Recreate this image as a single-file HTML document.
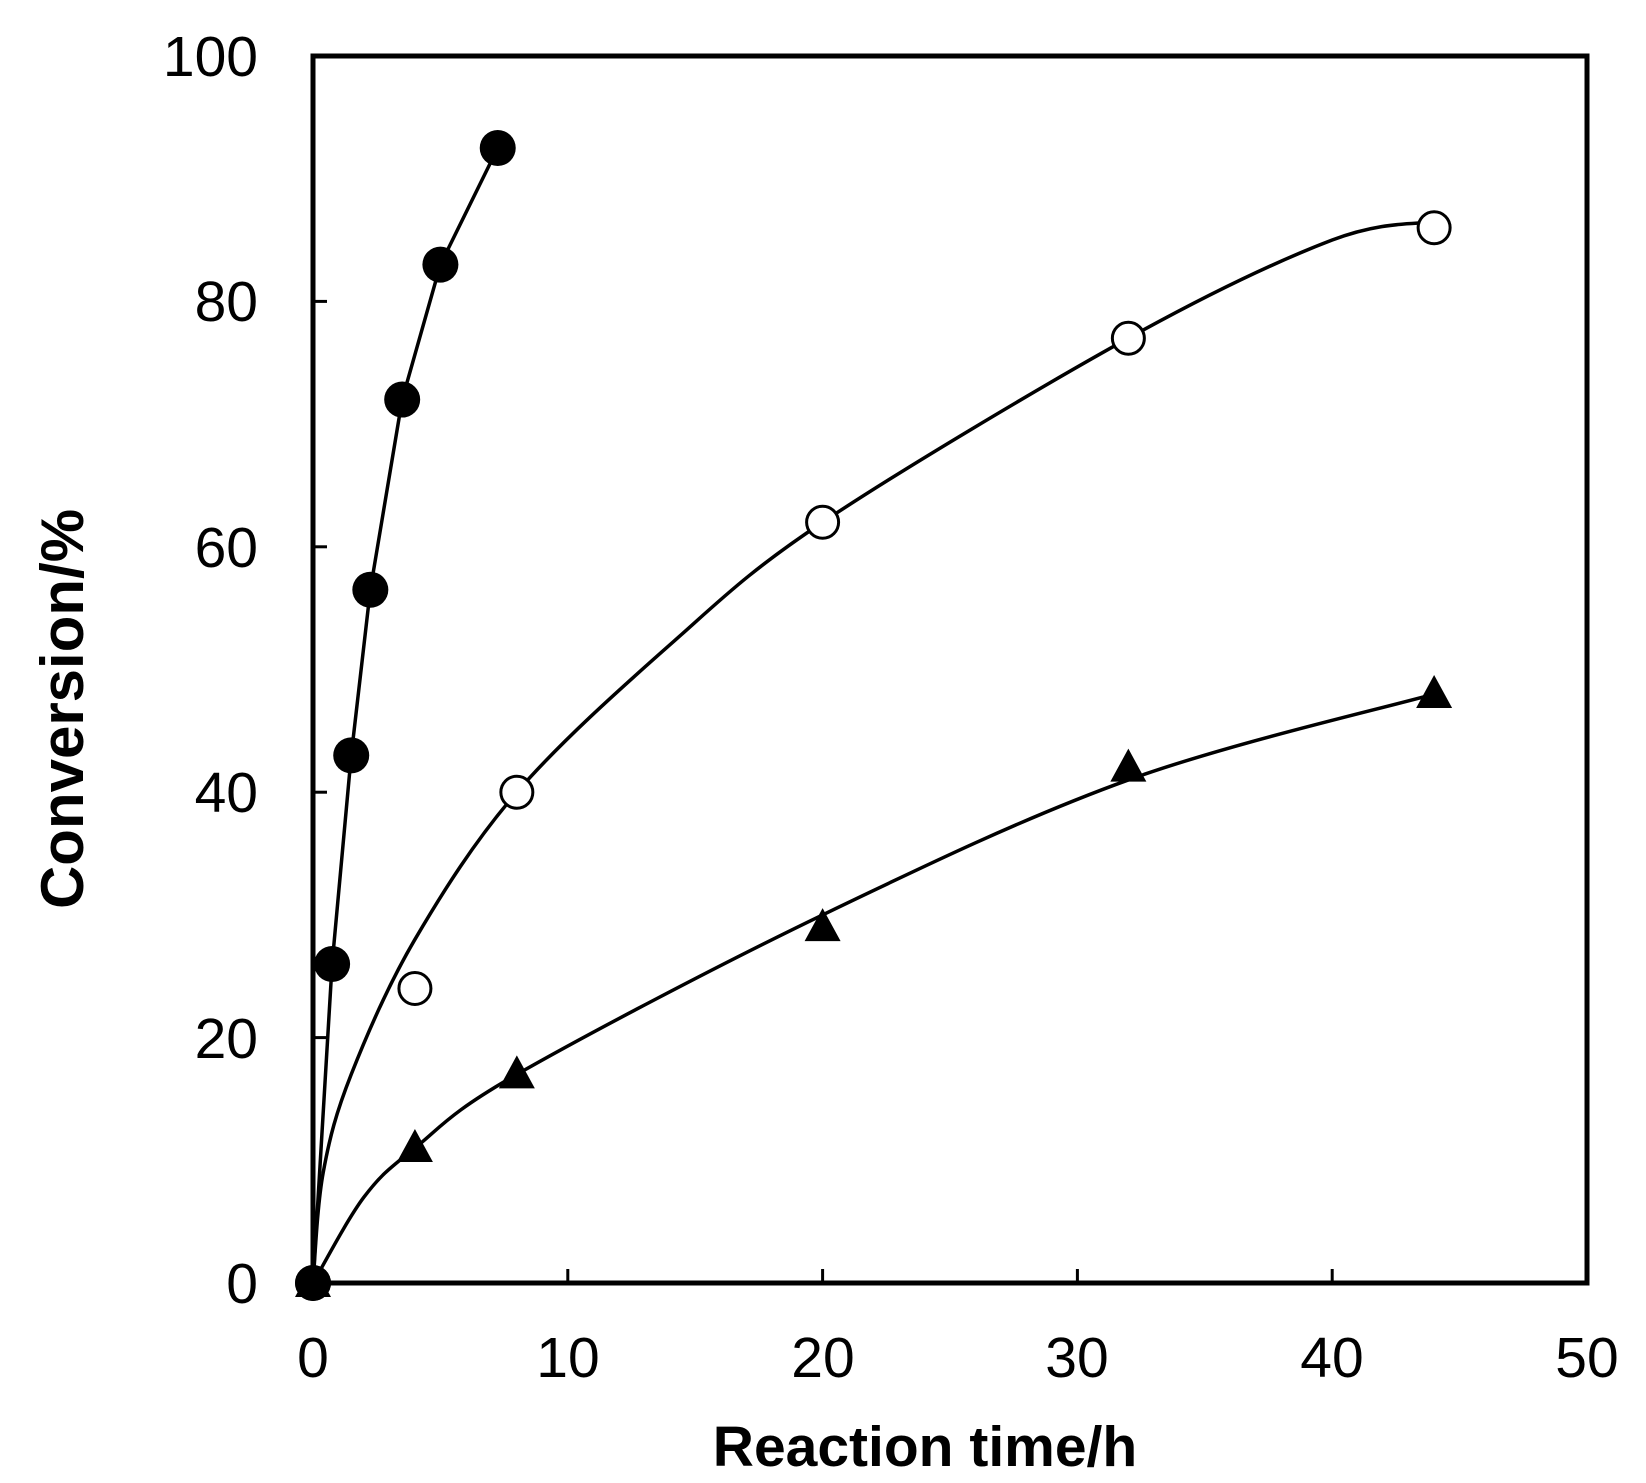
<!DOCTYPE html>
<html><head><meta charset="utf-8"><style>
html,body{margin:0;padding:0;background:#fff;}
svg{display:block;}
text{font-family:"Liberation Sans",sans-serif;fill:#000;}
</style></head><body>
<svg id="s" width="1646" height="1483" viewBox="0 0 1646 1483" xmlns="http://www.w3.org/2000/svg">
<rect x="0" y="0" width="1646" height="1483" fill="#fff"/>
<g id="plot"></g>
<rect x="313" y="56" width="1274" height="1227" fill="none" stroke="#000" stroke-width="5"/>
<g font-size="57" text-anchor="end">
<text x="258" y="1303">0</text>
<text x="258" y="1058">20</text>
<text x="258" y="812">40</text>
<text x="258" y="567">60</text>
<text x="258" y="321">80</text>
<text x="258" y="76">100</text>
</g>
<g font-size="57" text-anchor="middle">
<text x="313" y="1377">0</text>
<text x="568" y="1377">10</text>
<text x="823" y="1377">20</text>
<text x="1077" y="1377">30</text>
<text x="1332" y="1377">40</text>
<text x="1587" y="1377">50</text>
</g>
<text x="925" y="1466" font-size="57" font-weight="bold" text-anchor="middle">Reaction time/h</text>
<text transform="translate(83,709) rotate(-90)" font-size="60" font-weight="bold" text-anchor="middle">Conversion/%</text>
</svg>
<script>
var X=function(v){return 313+v*25.48}, Y=function(v){return 1283-v*12.27};
var g=document.getElementById('plot'), NS='http://www.w3.org/2000/svg';
function el(n,a){var e=document.createElementNS(NS,n);for(var k in a)e.setAttribute(k,a[k]);g.appendChild(e);return e;}
[10,20,30,40].forEach(function(t){el('line',{x1:X(t),x2:X(t),y1:1283,y2:1269,stroke:'#000','stroke-width':3});});
[20,40,60,80].forEach(function(t){el('line',{x1:313,x2:327,y1:Y(t),y2:Y(t),stroke:'#000','stroke-width':3});});
function cr(pts){var p=pts.map(function(q){return [X(q[0]),Y(q[1])]});var d='M'+p[0][0]+','+p[0][1];
for(var i=0;i<p.length-1;i++){var p0=p[i-1]||p[i],p1=p[i],p2=p[i+1],p3=p[i+2]||p2;
d+=' C'+(p1[0]+(p2[0]-p0[0])/6)+','+(p1[1]+(p2[1]-p0[1])/6)+' '+(p2[0]-(p3[0]-p1[0])/6)+','+(p2[1]-(p3[1]-p1[1])/6)+' '+p2[0]+','+p2[1];}
el('path',{d:d,fill:'none',stroke:'#000','stroke-width':3.5});}
var f=[[0,0],[0.75,26],[1.5,43],[2.25,56.5],[3.5,72],[5,83],[7.25,92.5]];
el('polyline',{points:f.map(function(q){return X(q[0])+','+Y(q[1])}).join(' '),fill:'none',stroke:'#000','stroke-width':3.5});
cr([[0,0],[0.4,9],[1.5,17],[4,28],[8,40],[14,52],[20,62],[32,77],[40,85],[44,86.5]]);
cr([[0,0],[2,7],[4,11],[8,17],[20,30],[32,41],[44,48]]);
f.forEach(function(q){el('circle',{cx:X(q[0]),cy:Y(q[1]),r:18,fill:'#000'});});
[[4,24],[8,40],[20,62],[32,77],[44,86]].forEach(function(q){el('circle',{cx:X(q[0]),cy:Y(q[1]),r:16,fill:'#fff',stroke:'#000','stroke-width':3});});
[[0,0],[4,11],[8,17],[20,29],[32,42],[44,48]].forEach(function(q){var x=X(q[0]),y=Y(q[1]);
el('polygon',{points:(x)+','+(y-19)+' '+(x-18)+','+(y+14)+' '+(x+18)+','+(y+14),fill:'#000'});});
el('circle',{cx:X(0),cy:Y(0),r:18,fill:'#000'});
</script>
</body></html>
